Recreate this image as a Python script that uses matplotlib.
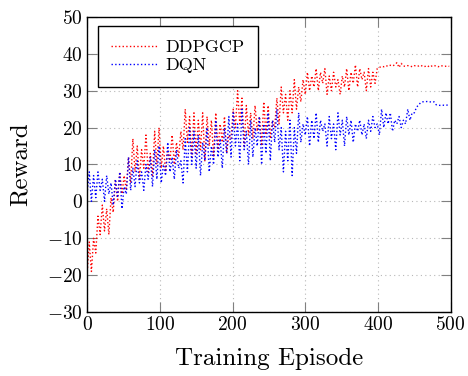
import numpy as np
from matplotlib import pyplot as plt

plt.rcParams['font.family'] = 'cmr10'
plt.rcParams['mathtext.fontset'] = 'cm'
plt.rcParams['axes.formatter.use_mathtext'] = True

# episodi (passo 3)
episodes = np.arange(0, 500, 3)

# ricompensa DDPGCP
reward_ddpgcp = [
    -20, -11, -19, -10, -14, -4, -9, -1, -8, -2,
    -9, 1, -3, 6, 0, 8, 2, 7, 3, 12,
    5, 17, 8, 15, 6, 14, 9, 18, 8, 13,
    7, 19, 10, 20, 9, 15, 8, 14, 11, 18,
    10, 16, 12, 19, 14, 25, 16, 23, 12, 24,
    13, 22, 14, 24, 11, 23, 15, 22, 12, 24,
    14, 21, 16, 23, 13, 18, 17, 25, 20, 30,
    21, 28, 15, 26, 18, 24, 17, 26, 19, 23,
    15, 27, 18, 26, 17, 22, 20, 28, 21, 31,
    24, 29, 22, 30, 24, 33, 25, 31, 27, 33,
    29, 35, 30, 34, 31, 36, 30, 35, 32, 36,
    29, 34, 30, 35, 31, 33, 29, 34, 31, 36,
    30, 35, 32, 37, 31, 36, 33, 35, 30, 36,
    31, 35, 32, 36,
    36.3, 36.6, 36.5, 36.8, 36.6, 36.9, 36.7, 37.0, 37.6, 36.3,
    37.4, 36.7, 36.6, 36.8, 36.7, 36.5, 36.8, 36.6, 36.7, 36.9,
    36.5, 36.6, 36.8, 36.4, 36.7, 36.9, 36.6, 36.5, 36.8, 36.7,
    36.6, 36.7, 36.6,
]

# ricompensa DQN
reward_dqn = [
    2, 8, 0, 7, 1, 8, 3, 6, 0, 7,
    2, 5, -1, 6, 1, 8, -2, 4, 2, 12,
    3, 9, 4, 11, 5, 8, 3, 10, 6, 12,
    4, 14, 6, 15, 5, 10, 7, 16, 8, 12,
    6, 14, 9, 11, 5, 17, 8, 20, 10, 19,
    9, 18, 7, 16, 11, 20, 8, 15, 10, 22,
    12, 17, 9, 20, 13, 23, 12, 24, 15, 21,
    11, 25, 14, 19, 10, 22, 12, 20, 15, 23,
    10, 21, 13, 24, 11, 22, 16, 25, 14, 20,
    8, 19, 11, 22, 7, 20, 13, 24, 16, 21,
    18, 23, 15, 22, 17, 24, 16, 22, 19, 21,
    15, 23, 17, 21, 14, 24, 18, 22, 15, 23,
    18, 22, 16, 21, 19, 22, 18, 21, 17, 22,
    19, 23, 20, 21, 18, 25, 20, 24, 21, 24,
    19, 22, 21, 23, 20, 22, 21, 25, 22, 24,
    24, 25.5, 26.2, 26.8, 27.0, 27.0, 27.1, 27.0, 26.9, 27.0,
    26.2, 26.1, 26.0, 26.1, 26.0, 26.1, 26.0,
]

fig = plt.figure(figsize=(4.68, 3.76), dpi=100)
ax = fig.add_axes((0.186, 0.170, 0.777, 0.785))

ax.plot(episodes, reward_ddpgcp, color='red', ls=':', lw=1.0, label='DDPGCP')
ax.plot(episodes, reward_dqn, color='blue', ls=':', lw=1.0, label='DQN')

ax.set_xlim(0, 500)
ax.set_ylim(-30, 50)
ax.set_xticks(np.arange(0, 501, 100))
ax.set_yticks(np.arange(-30, 51, 10))
ax.grid(which='major', ls=(0, (1, 3)), color='#b8b8b8', lw=0.8)
ax.tick_params(direction='in', length=7, width=0.8, color='#808080',
               top=True, right=True, labelsize=14, pad=3)
for s in ax.spines.values():
    s.set_linewidth(1.0)
    s.set_color('black')

ax.set_xlabel('Training Episode', fontsize=18, labelpad=10)
ax.set_ylabel('Reward', fontsize=18, labelpad=11)

leg = ax.legend(loc='upper left', bbox_to_anchor=(0.03, 0.97), borderaxespad=0,
                fontsize=13, fancybox=False, framealpha=1, edgecolor='black',
                handlelength=2.6, handletextpad=0.4, labelspacing=0.15,
                borderpad=0.75)
leg.get_frame().set_linewidth(1.0)

plt.savefig('out.png', dpi=100)
